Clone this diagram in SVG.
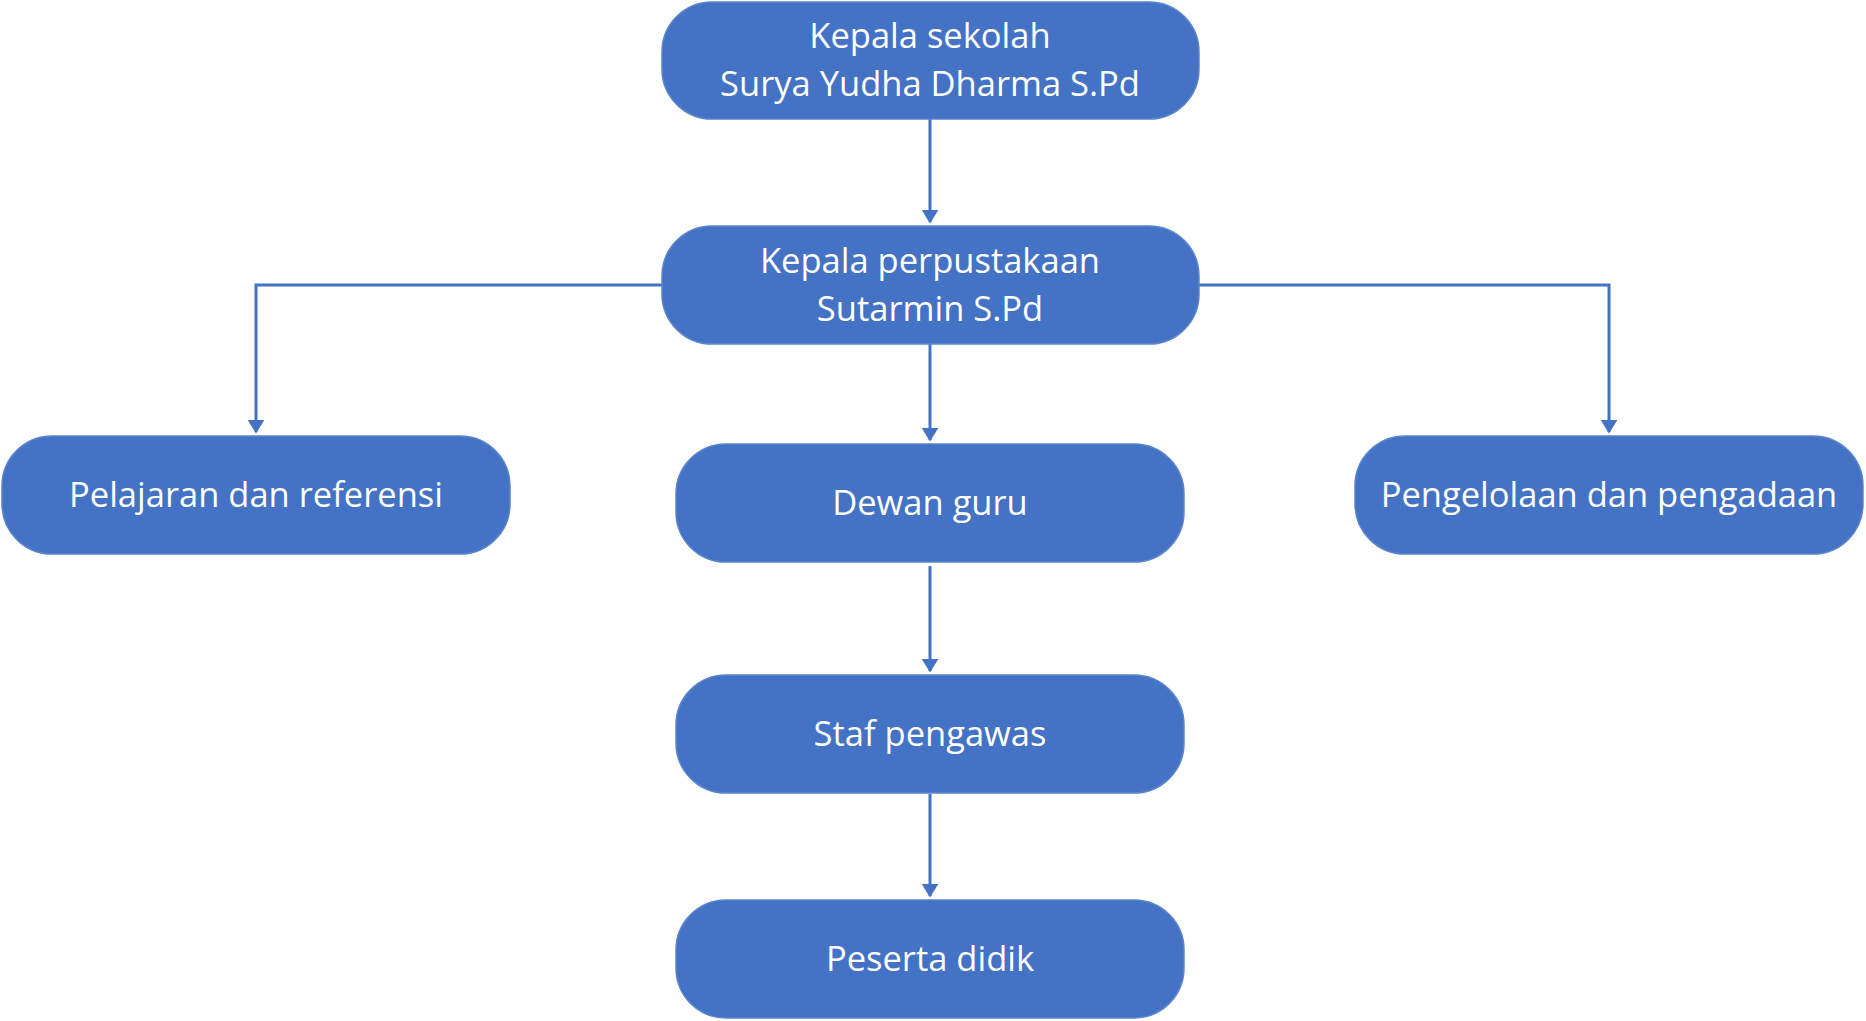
<svg xmlns="http://www.w3.org/2000/svg" width="1866" height="1021" viewBox="0 0 1866 1021">
<style>
.node{fill:#4472C4;stroke:#5b84cc;stroke-width:1.5}
.t{fill:#ffffff;font-family:"Open Sans","Noto Sans","Liberation Sans",sans-serif;font-size:34.5px;text-anchor:middle}
.c{fill:none;stroke:#4472C4;stroke-width:3}
</style>
<defs>
<marker id="ah" markerWidth="6" markerHeight="6" refX="4" refY="2.75" orient="auto" markerUnits="strokeWidth">
<path d="M0,0 L4.5,2.75 L0,5.5 Z" fill="#4472C4"/>
</marker>
</defs>
<rect width="1866" height="1021" fill="#ffffff"/>
<g id="connectors">
<path class="c" d="M930,119 V222" marker-end="url(#ah)"/>
<path class="c" d="M662,285 H256 V432" marker-end="url(#ah)"/>
<path class="c" d="M1198,285 H1609 V432" marker-end="url(#ah)"/>
<path class="c" d="M930,344 V440" marker-end="url(#ah)"/>
<path class="c" d="M930,566 V671" marker-end="url(#ah)"/>
<path class="c" d="M930,794 V896" marker-end="url(#ah)"/>
</g>
<g id="kepala-sekolah">
<rect class="node" x="662" y="2" width="537" height="117" rx="50"/>
<text class="t" x="930" y="48">Kepala sekolah</text>
<text class="t" x="930" y="96">Surya Yudha Dharma S.Pd</text>
</g>
<g id="kepala-perpustakaan">
<rect class="node" x="662" y="226" width="537" height="118" rx="50"/>
<text class="t" x="930" y="273">Kepala perpustakaan</text>
<text class="t" x="930" y="321">Sutarmin S.Pd</text>
</g>
<g id="pelajaran">
<rect class="node" x="2" y="436" width="508" height="118" rx="50"/>
<text class="t" x="256" y="507">Pelajaran dan referensi</text>
</g>
<g id="dewan-guru">
<rect class="node" x="676" y="444" width="508" height="118" rx="50"/>
<text class="t" x="930" y="515">Dewan guru</text>
</g>
<g id="pengelolaan">
<rect class="node" x="1355" y="436" width="508" height="118" rx="50"/>
<text class="t" x="1609" y="507">Pengelolaan dan pengadaan</text>
</g>
<g id="staf-pengawas">
<rect class="node" x="676" y="675" width="508" height="118" rx="50"/>
<text class="t" x="930" y="746">Staf pengawas</text>
</g>
<g id="peserta-didik">
<rect class="node" x="676" y="900" width="508" height="118" rx="50"/>
<text class="t" x="930" y="971">Peserta didik</text>
</g>
</svg>
